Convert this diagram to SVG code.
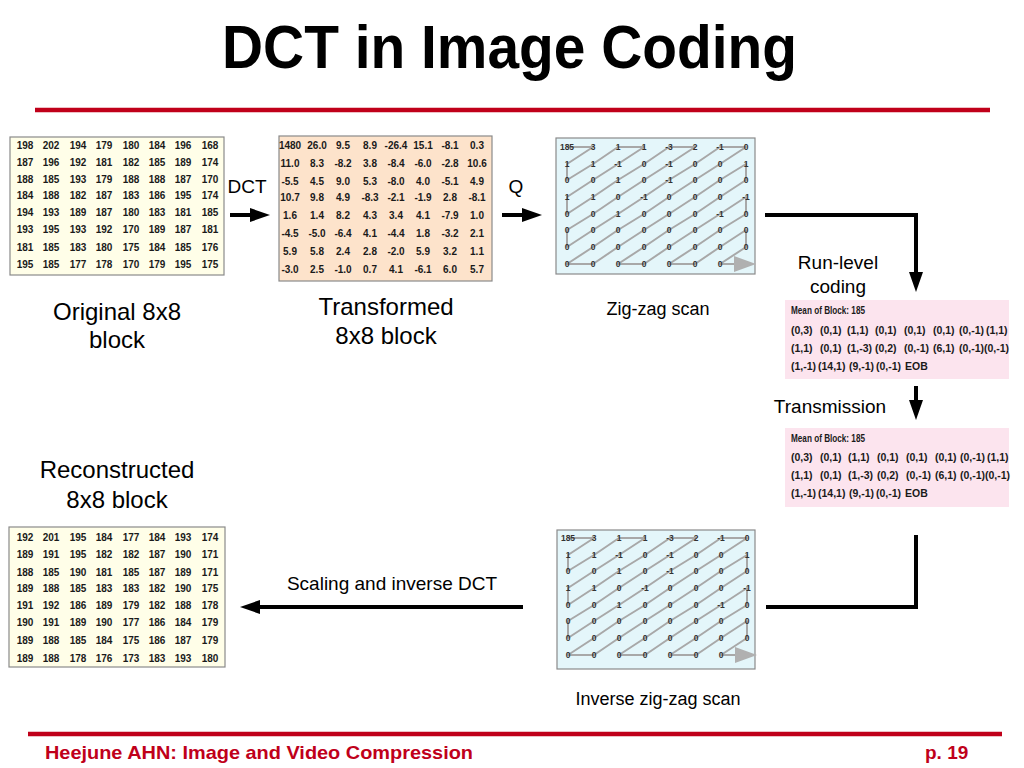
<svg xmlns="http://www.w3.org/2000/svg" width="1024" height="768" viewBox="0 0 1024 768">
<style>
text{font-family:"Liberation Sans",Arial,sans-serif;}
.title{font-size:62px;font-weight:bold;fill:#000;}
.foot{font-size:19px;font-weight:bold;fill:#c0001a;}
.lbl{font-size:24px;fill:#000;text-anchor:middle;}
.sl{font-size:19px;fill:#000;text-anchor:middle;}
.num{font-size:10px;font-weight:bold;fill:#1a1a1a;text-anchor:middle;}
.zn{font-size:8.5px;font-weight:bold;fill:#333;text-anchor:middle;}
.pr{font-size:10.5px;font-weight:bold;fill:#1a1a1a;}
.hd{font-size:10.5px;font-weight:bold;fill:#1a1a1a;}
.box{stroke:#8a8a8a;stroke-width:1.2;}
.zz{fill:none;stroke:#a8a8a8;stroke-width:2;stroke-linejoin:round;}
.conn{fill:none;stroke:#000;stroke-width:4;stroke-linejoin:miter;}
.rule{stroke:#c0001a;stroke-width:4.5;}
</style>
<defs>
<marker id="ah" viewBox="0 0 20 14" markerWidth="20" markerHeight="14" refX="4" refY="7" orient="auto" markerUnits="userSpaceOnUse">
<path d="M0,0 L20,7 L0,14 z" fill="#000"/>
</marker>
</defs>

<g id="title">
<text class="title" x="222" y="68" textLength="575" lengthAdjust="spacingAndGlyphs">DCT in Image Coding</text>
<line class="rule" x1="35" y1="110" x2="990" y2="110"/>
</g>

<g id="original">
<rect class="box" x="10" y="137" width="214" height="138" fill="#fffee8"/>
<text class="num" y="148.5"><tspan x="25">198</tspan><tspan x="51">202</tspan><tspan x="78">194</tspan><tspan x="104">179</tspan><tspan x="131">180</tspan><tspan x="157">184</tspan><tspan x="183">196</tspan><tspan x="210">168</tspan></text>
<text class="num" y="165.5"><tspan x="25">187</tspan><tspan x="51">196</tspan><tspan x="78">192</tspan><tspan x="104">181</tspan><tspan x="131">182</tspan><tspan x="157">185</tspan><tspan x="183">189</tspan><tspan x="210">174</tspan></text>
<text class="num" y="182.5"><tspan x="25">188</tspan><tspan x="51">185</tspan><tspan x="78">193</tspan><tspan x="104">179</tspan><tspan x="131">188</tspan><tspan x="157">188</tspan><tspan x="183">187</tspan><tspan x="210">170</tspan></text>
<text class="num" y="198.5"><tspan x="25">184</tspan><tspan x="51">188</tspan><tspan x="78">182</tspan><tspan x="104">187</tspan><tspan x="131">183</tspan><tspan x="157">186</tspan><tspan x="183">195</tspan><tspan x="210">174</tspan></text>
<text class="num" y="216"><tspan x="25">194</tspan><tspan x="51">193</tspan><tspan x="78">189</tspan><tspan x="104">187</tspan><tspan x="131">180</tspan><tspan x="157">183</tspan><tspan x="183">181</tspan><tspan x="210">185</tspan></text>
<text class="num" y="233"><tspan x="25">193</tspan><tspan x="51">195</tspan><tspan x="78">193</tspan><tspan x="104">192</tspan><tspan x="131">170</tspan><tspan x="157">189</tspan><tspan x="183">187</tspan><tspan x="210">181</tspan></text>
<text class="num" y="250.5"><tspan x="25">181</tspan><tspan x="51">185</tspan><tspan x="78">183</tspan><tspan x="104">180</tspan><tspan x="131">175</tspan><tspan x="157">184</tspan><tspan x="183">185</tspan><tspan x="210">176</tspan></text>
<text class="num" y="267.5"><tspan x="25">195</tspan><tspan x="51">185</tspan><tspan x="78">177</tspan><tspan x="104">178</tspan><tspan x="131">170</tspan><tspan x="157">179</tspan><tspan x="183">195</tspan><tspan x="210">175</tspan></text>
<text class="lbl" x="117" y="320">Original 8x8</text>
<text class="lbl" x="117" y="348">block</text>
</g>

<g id="transformed">
<rect class="box" x="279" y="136" width="213" height="145" fill="#fde3cb"/>
<text class="num" y="148.5"><tspan x="290">1480</tspan><tspan x="317">26.0</tspan><tspan x="343">9.5</tspan><tspan x="370">8.9</tspan><tspan x="396">-26.4</tspan><tspan x="423">15.1</tspan><tspan x="450">-8.1</tspan><tspan x="477">0.3</tspan></text>
<text class="num" y="167"><tspan x="290">11.0</tspan><tspan x="317">8.3</tspan><tspan x="343">-8.2</tspan><tspan x="370">3.8</tspan><tspan x="396">-8.4</tspan><tspan x="423">-6.0</tspan><tspan x="450">-2.8</tspan><tspan x="477">10.6</tspan></text>
<text class="num" y="185"><tspan x="290">-5.5</tspan><tspan x="317">4.5</tspan><tspan x="343">9.0</tspan><tspan x="370">5.3</tspan><tspan x="396">-8.0</tspan><tspan x="423">4.0</tspan><tspan x="450">-5.1</tspan><tspan x="477">4.9</tspan></text>
<text class="num" y="200.5"><tspan x="290">10.7</tspan><tspan x="317">9.8</tspan><tspan x="343">4.9</tspan><tspan x="370">-8.3</tspan><tspan x="396">-2.1</tspan><tspan x="423">-1.9</tspan><tspan x="450">2.8</tspan><tspan x="477">-8.1</tspan></text>
<text class="num" y="218.5"><tspan x="290">1.6</tspan><tspan x="317">1.4</tspan><tspan x="343">8.2</tspan><tspan x="370">4.3</tspan><tspan x="396">3.4</tspan><tspan x="423">4.1</tspan><tspan x="450">-7.9</tspan><tspan x="477">1.0</tspan></text>
<text class="num" y="237"><tspan x="290">-4.5</tspan><tspan x="317">-5.0</tspan><tspan x="343">-6.4</tspan><tspan x="370">4.1</tspan><tspan x="396">-4.4</tspan><tspan x="423">1.8</tspan><tspan x="450">-3.2</tspan><tspan x="477">2.1</tspan></text>
<text class="num" y="255"><tspan x="290">5.9</tspan><tspan x="317">5.8</tspan><tspan x="343">2.4</tspan><tspan x="370">2.8</tspan><tspan x="396">-2.0</tspan><tspan x="423">5.9</tspan><tspan x="450">3.2</tspan><tspan x="477">1.1</tspan></text>
<text class="num" y="272.5"><tspan x="290">-3.0</tspan><tspan x="317">2.5</tspan><tspan x="343">-1.0</tspan><tspan x="370">0.7</tspan><tspan x="396">4.1</tspan><tspan x="423">-6.1</tspan><tspan x="450">6.0</tspan><tspan x="477">5.7</tspan></text>
<text class="lbl" x="386" y="315">Transformed</text>
<text class="lbl" x="386" y="344">8x8 block</text>
</g>

<g id="zigzag">
<rect class="box" x="556" y="138" width="199" height="136" fill="#e4f6fa"/>
<polyline class="zz" points="567,147 593,147 567,164 567,180 593,164 618,147 644,147 618,164 593,180 567,197 567,214 593,197 618,180 644,164 669,147 695,147 669,164 644,180 618,197 593,214 567,230 567,247 593,230 618,214 644,197 669,180 695,164 720,147 746,147 720,164 695,180 669,197 644,214 618,230 593,247 567,264 593,264 618,247 644,230 669,214 695,197 720,180 746,164 746,180 720,197 695,214 669,230 644,247 618,264 644,264 669,247 695,230 720,214 746,197 746,214 720,230 695,247 669,264 695,264 720,247 746,230 746,247 720,264 736,264"/>
<text class="zn" y="150"><tspan x="567">185</tspan><tspan x="593">3</tspan><tspan x="618">1</tspan><tspan x="644">1</tspan><tspan x="669">-3</tspan><tspan x="695">2</tspan><tspan x="720">-1</tspan><tspan x="746">0</tspan></text>
<text class="zn" y="167"><tspan x="567">1</tspan><tspan x="593">1</tspan><tspan x="618">-1</tspan><tspan x="644">0</tspan><tspan x="669">-1</tspan><tspan x="695">0</tspan><tspan x="720">0</tspan><tspan x="746">1</tspan></text>
<text class="zn" y="183"><tspan x="567">0</tspan><tspan x="593">0</tspan><tspan x="618">1</tspan><tspan x="644">0</tspan><tspan x="669">-1</tspan><tspan x="695">0</tspan><tspan x="720">0</tspan><tspan x="746">0</tspan></text>
<text class="zn" y="200"><tspan x="567">1</tspan><tspan x="593">1</tspan><tspan x="618">0</tspan><tspan x="644">-1</tspan><tspan x="669">0</tspan><tspan x="695">0</tspan><tspan x="720">0</tspan><tspan x="746">-1</tspan></text>
<text class="zn" y="217"><tspan x="567">0</tspan><tspan x="593">0</tspan><tspan x="618">1</tspan><tspan x="644">0</tspan><tspan x="669">0</tspan><tspan x="695">0</tspan><tspan x="720">-1</tspan><tspan x="746">0</tspan></text>
<text class="zn" y="233"><tspan x="567">0</tspan><tspan x="593">0</tspan><tspan x="618">0</tspan><tspan x="644">0</tspan><tspan x="669">0</tspan><tspan x="695">0</tspan><tspan x="720">0</tspan><tspan x="746">0</tspan></text>
<text class="zn" y="250"><tspan x="567">0</tspan><tspan x="593">0</tspan><tspan x="618">0</tspan><tspan x="644">0</tspan><tspan x="669">0</tspan><tspan x="695">0</tspan><tspan x="720">0</tspan><tspan x="746">0</tspan></text>
<text class="zn" y="267"><tspan x="567">0</tspan><tspan x="593">0</tspan><tspan x="618">0</tspan><tspan x="644">0</tspan><tspan x="669">0</tspan><tspan x="695">0</tspan><tspan x="720">0</tspan></text>
<polygon points="734,256 756,264 734,272" fill="#b0b0b0"/>
<text class="sl" x="658" y="315" style="font-size:18px">Zig-zag scan</text>
</g>

<g id="runlevel">
<text class="sl" x="838" y="269">Run-level</text>
<text class="sl" x="838" y="293">coding</text>
<rect x="785" y="300" width="224" height="79" fill="#fce4ee"/>
<text class="hd" x="791" y="314" textLength="74" lengthAdjust="spacingAndGlyphs">Mean of Block: 185</text>
<text class="pr" y="334"><tspan x="791">(0,3)</tspan><tspan x="820">(0,1)</tspan><tspan x="847">(1,1)</tspan><tspan x="875">(0,1)</tspan><tspan x="904">(0,1)</tspan><tspan x="933">(0,1)</tspan><tspan x="959">(0,-1)</tspan><tspan x="986">(1,1)</tspan></text>
<text class="pr" y="352"><tspan x="791">(1,1)</tspan><tspan x="820">(0,1)</tspan><tspan x="847">(1,-3)</tspan><tspan x="875">(0,2)</tspan><tspan x="904">(0,-1)</tspan><tspan x="933">(6,1)</tspan><tspan x="959">(0,-1)</tspan><tspan x="984">(0,-1)</tspan></text>
<text class="pr" y="370"><tspan x="791">(1,-1)</tspan><tspan x="818">(14,1)</tspan><tspan x="849">(9,-1)</tspan><tspan x="876">(0,-1)</tspan><tspan x="905">EOB</tspan></text>
</g>

<g id="transmission">
<text class="sl" x="830" y="413">Transmission</text>
<rect x="785" y="428" width="224" height="79" fill="#fce4ee"/>
<text class="hd" x="791" y="442" textLength="74" lengthAdjust="spacingAndGlyphs">Mean of Block: 185</text>
<text class="pr" y="461"><tspan x="791">(0,3)</tspan><tspan x="820">(0,1)</tspan><tspan x="848">(1,1)</tspan><tspan x="877">(0,1)</tspan><tspan x="906">(0,1)</tspan><tspan x="935">(0,1)</tspan><tspan x="960">(0,-1)</tspan><tspan x="987">(1,1)</tspan></text>
<text class="pr" y="479"><tspan x="791">(1,1)</tspan><tspan x="820">(0,1)</tspan><tspan x="848">(1,-3)</tspan><tspan x="877">(0,2)</tspan><tspan x="906">(0,-1)</tspan><tspan x="935">(6,1)</tspan><tspan x="960">(0,-1)</tspan><tspan x="985">(0,-1)</tspan></text>
<text class="pr" y="497"><tspan x="791">(1,-1)</tspan><tspan x="818">(14,1)</tspan><tspan x="849">(9,-1)</tspan><tspan x="876">(0,-1)</tspan><tspan x="905">EOB</tspan></text>
</g>

<g id="inverse-zigzag" transform="translate(1,391)">
<rect class="box" x="556" y="139" width="198" height="139" fill="#e4f6fa"/>
<polyline class="zz" points="567,147 593,147 567,164 567,180 593,164 618,147 644,147 618,164 593,180 567,197 567,214 593,197 618,180 644,164 669,147 695,147 669,164 644,180 618,197 593,214 567,230 567,247 593,230 618,214 644,197 669,180 695,164 720,147 746,147 720,164 695,180 669,197 644,214 618,230 593,247 567,264 593,264 618,247 644,230 669,214 695,197 720,180 746,164 746,180 720,197 695,214 669,230 644,247 618,264 644,264 669,247 695,230 720,214 746,197 746,214 720,230 695,247 669,264 695,264 720,247 746,230 746,247 720,264 736,264"/>
<text class="zn" y="150"><tspan x="567">185</tspan><tspan x="593">3</tspan><tspan x="618">1</tspan><tspan x="644">1</tspan><tspan x="669">-3</tspan><tspan x="695">2</tspan><tspan x="720">-1</tspan><tspan x="746">0</tspan></text>
<text class="zn" y="167"><tspan x="567">1</tspan><tspan x="593">1</tspan><tspan x="618">-1</tspan><tspan x="644">0</tspan><tspan x="669">-1</tspan><tspan x="695">0</tspan><tspan x="720">0</tspan><tspan x="746">1</tspan></text>
<text class="zn" y="183"><tspan x="567">0</tspan><tspan x="593">0</tspan><tspan x="618">1</tspan><tspan x="644">0</tspan><tspan x="669">-1</tspan><tspan x="695">0</tspan><tspan x="720">0</tspan><tspan x="746">0</tspan></text>
<text class="zn" y="200"><tspan x="567">1</tspan><tspan x="593">1</tspan><tspan x="618">0</tspan><tspan x="644">-1</tspan><tspan x="669">0</tspan><tspan x="695">0</tspan><tspan x="720">0</tspan><tspan x="746">-1</tspan></text>
<text class="zn" y="217"><tspan x="567">0</tspan><tspan x="593">0</tspan><tspan x="618">1</tspan><tspan x="644">0</tspan><tspan x="669">0</tspan><tspan x="695">0</tspan><tspan x="720">-1</tspan><tspan x="746">0</tspan></text>
<text class="zn" y="233"><tspan x="567">0</tspan><tspan x="593">0</tspan><tspan x="618">0</tspan><tspan x="644">0</tspan><tspan x="669">0</tspan><tspan x="695">0</tspan><tspan x="720">0</tspan><tspan x="746">0</tspan></text>
<text class="zn" y="250"><tspan x="567">0</tspan><tspan x="593">0</tspan><tspan x="618">0</tspan><tspan x="644">0</tspan><tspan x="669">0</tspan><tspan x="695">0</tspan><tspan x="720">0</tspan><tspan x="746">0</tspan></text>
<text class="zn" y="267"><tspan x="567">0</tspan><tspan x="593">0</tspan><tspan x="618">0</tspan><tspan x="644">0</tspan><tspan x="669">0</tspan><tspan x="695">0</tspan><tspan x="720">0</tspan></text>
<polygon points="734,256 756,264 734,272" fill="#b0b0b0"/>
</g>
<text class="sl" x="658" y="705" style="font-size:18px">Inverse zig-zag scan</text>

<g id="reconstructed">
<text class="lbl" x="117" y="478">Reconstructed</text>
<text class="lbl" x="117" y="508">8x8 block</text>
<rect class="box" x="9" y="527" width="216" height="140" fill="#fffee8"/>
<text class="num" y="540.5"><tspan x="25">192</tspan><tspan x="51">201</tspan><tspan x="78">195</tspan><tspan x="104">184</tspan><tspan x="131">177</tspan><tspan x="157">184</tspan><tspan x="183">193</tspan><tspan x="210">174</tspan></text>
<text class="num" y="558"><tspan x="25">189</tspan><tspan x="51">191</tspan><tspan x="78">195</tspan><tspan x="104">182</tspan><tspan x="131">182</tspan><tspan x="157">187</tspan><tspan x="183">190</tspan><tspan x="210">171</tspan></text>
<text class="num" y="575.5"><tspan x="25">188</tspan><tspan x="51">185</tspan><tspan x="78">190</tspan><tspan x="104">181</tspan><tspan x="131">185</tspan><tspan x="157">187</tspan><tspan x="183">189</tspan><tspan x="210">171</tspan></text>
<text class="num" y="591.5"><tspan x="25">189</tspan><tspan x="51">188</tspan><tspan x="78">185</tspan><tspan x="104">183</tspan><tspan x="131">183</tspan><tspan x="157">182</tspan><tspan x="183">190</tspan><tspan x="210">175</tspan></text>
<text class="num" y="608.5"><tspan x="25">191</tspan><tspan x="51">192</tspan><tspan x="78">186</tspan><tspan x="104">189</tspan><tspan x="131">179</tspan><tspan x="157">182</tspan><tspan x="183">188</tspan><tspan x="210">178</tspan></text>
<text class="num" y="625.5"><tspan x="25">190</tspan><tspan x="51">191</tspan><tspan x="78">189</tspan><tspan x="104">190</tspan><tspan x="131">177</tspan><tspan x="157">186</tspan><tspan x="183">184</tspan><tspan x="210">179</tspan></text>
<text class="num" y="643.5"><tspan x="25">189</tspan><tspan x="51">188</tspan><tspan x="78">185</tspan><tspan x="104">184</tspan><tspan x="131">175</tspan><tspan x="157">186</tspan><tspan x="183">187</tspan><tspan x="210">179</tspan></text>
<text class="num" y="661.5"><tspan x="25">189</tspan><tspan x="51">188</tspan><tspan x="78">178</tspan><tspan x="104">176</tspan><tspan x="131">173</tspan><tspan x="157">183</tspan><tspan x="183">193</tspan><tspan x="210">180</tspan></text>
</g>

<g id="connectors">
<line class="conn" x1="230" y1="215" x2="254" y2="215" marker-end="url(#ah)"/>
<text class="sl" x="247" y="193">DCT</text>
<line class="conn" x1="502" y1="215" x2="526" y2="215" marker-end="url(#ah)"/>
<text class="sl" x="516" y="193">Q</text>
<path class="conn" d="M765,215 H916 V276" marker-end="url(#ah)"/>
<line class="conn" x1="916" y1="386" x2="916" y2="404" marker-end="url(#ah)"/>
<path class="conn" d="M916,535 V607 H766"/>
<line class="conn" x1="523" y1="607" x2="256" y2="607" marker-end="url(#ah)"/>
<text class="sl" x="392" y="590">Scaling and inverse DCT</text>
</g>

<g id="footer">
<line class="rule" x1="28" y1="734" x2="1002" y2="734"/>
<text class="foot" x="45" y="759" textLength="428" lengthAdjust="spacingAndGlyphs">Heejune AHN: Image and Video Compression</text>
<text class="foot" x="925" y="759">p. 19</text>
</g>
</svg>
